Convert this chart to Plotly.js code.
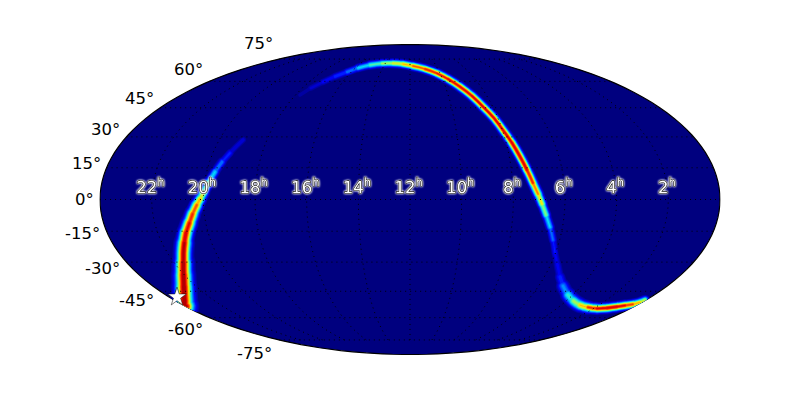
<!DOCTYPE html><html><head><meta charset="utf-8">
<script src="https://cdn.plot.ly/plotly-3.0.1.min.js"></script>
<style>html,body{margin:0;padding:0;background:#fff}</style></head><body>
<div id="chart" style="width:800px;height:400px"></div>
<script>
// Sky-map ridge: right ascension (deg), declination (deg), peak colour level, spread
var bandRA   =[359.9,359.1,347.7,339.0,330.6,324.2,316.5,313.2,309.6,306.8,303.9,301.9,300.1,297.5,295.1,292.5,289.6,285.0,null,266.5,262.8,257.5,251.6,244.3,237.0,226.7,213.9,200.7,188.4,176.6,163.9,153.0,144.9,137.7,131.6,127.1,122.7,119.6,116.4,113.5,110.8,108.2,105.6,103.3,100.6,97.4,94.0,90.3,85.5,79.4,72.9,63.5,54.4,45.3,36.2,27.6,19.8,13.6,8.9,4.3,1.3,0.3];
var bandDec  =[-53.4,-52.6,-47.6,-42.7,-36.5,-30.4,-20.6,-15.8,-11.1,-6.8,-2.6,0.2,3.1,8.2,13.0,17.8,22.1,28.5,null,52.0,56.0,59.6,63.0,65.9,68.6,70.6,71.7,71.8,71.3,69.9,67.9,65.0,61.4,56.8,51.4,45.6,39.6,33.4,27.0,20.3,13.9,7.8,2.6,-2.1,-7.3,-13.0,-19.2,-25.5,-31.4,-37.5,-42.2,-47.0,-50.3,-52.6,-53.9,-54.5,-54.3,-53.5,-52.8,-52.2,-51.2,-50.0];
var bandPeak =[1,1,1,1,1,1,.95,.95,.9,.85,.8,.7,.58,.42,.3,.2,.12,.06,null,.03,.06,.1,.14,.2,.3,.42,.5,.62,.68,.78,.85,.9,.92,.93,.94,.95,.95,.95,.95,.95,.95,.85,.72,.6,.42,.3,.17,.12,.1,.13,.2,.36,.5,.62,.8,.92,.95,.95,.9,.8,.7,.58];
var bandSpread=[5.2,5.2,5.2,5,4.8,4.4,3.9,3.8,3.6,3.4,3.1,2.9,2.7,2.5,2.3,2.2,2,1.9,null,1.9,1.9,1.9,1.9,2,2,2.1,2.1,2.1,2.1,2.1,2.1,2.2,2.2,2.2,2.3,2.3,2.3,2.3,2.4,2.4,2.4,2.4,2.5,2.4,2.3,2.2,2,2,2.2,2.6,3.2,3.6,3.6,3.2,2.8,2.5,2.4,2.4,2.4,2.3,2.3,2.3];
var starRA=[354.0], starDec=[-48.1];
var hourTicks=[22,20,18,16,14,12,10,8,6,4,2];
var decTicks=[75,60,45,30,15,0,-15,-30,-45,-60,-75];
var gridDec=[-75,-60,-45,-30,-15,0,15,30,45,60,75];
var gridHours=[2,4,6,8,10,12,14,16,18,20,22];

// label placement
var decRight=[274,204,155,121,102,95,101,121,155,204,273];
var decMid=[44,69,98,130,164,199,233,268,300,329,353];
var hourLabelDec=1, hourLabelLonShift=-0.8;

var W=800,H=400;
function lonOf(ra){return 180-ra;}
var jetStops=[[0,[0,0,127]],[.11,[0,0,255]],[.34,[0,220,255]],[.5,[124,255,122]],[.65,[255,232,0]],[.75,[255,130,0]],[.89,[238,0,0]],[1,[127,0,0]]];
function jet(v){for(var i=1;i<jetStops.length;i++){if(v<=jetStops[i][0]){var a=jetStops[i-1],b=jetStops[i],t=(v-a[0])/(b[0]-a[0]);
 return 'rgb('+[0,1,2].map(function(k){return Math.round(a[1][k]+(b[1][k]-a[1][k])*t);}).join(',')+')';}}return 'rgb(127,0,0)';}
var levels=[.03,.05,.07,.1,.14,.18,.22,.26,.3,.35,.4,.45,.5,.55,.6,.65,.7,.75,.8,.85,.9,.95];
var traces=[];
levels.forEach(function(l){
  var groups={};
  for(var i=0;i<bandRA.length-1;i++){
    if(bandRA[i]===null||bandRA[i+1]===null)continue;
    var pk=(bandPeak[i]+bandPeak[i+1])/2, sp=(bandSpread[i]+bandSpread[i+1])/2;
    if(pk<=l)continue;
    var w=2*sp*Math.sqrt(2*Math.log(pk/l));
    var key=(Math.round(w*2)/2).toFixed(1);
    var g=groups[key]||(groups[key]={lon:[],lat:[]});
    g.lon.push(lonOf(bandRA[i]),lonOf(bandRA[i+1]),null);g.lat.push(bandDec[i],bandDec[i+1],null);
  }
  Object.keys(groups).forEach(function(k){
    traces.push({type:'scattergeo',mode:'lines',lon:groups[k].lon,lat:groups[k].lat,hoverinfo:'skip',showlegend:false,
      line:{color:jet(l),width:Math.max(+k,.5)}});
  });
});
var bandTraceCount=traces.length;
// dotted graticule, on top of the band, capped at the last parallel
var gLon=[],gLat=[];
gridHours.forEach(function(h){gridDec.forEach(function(d){gLon.push(lonOf(h*15));gLat.push(d);});gLon.push(null);gLat.push(null);});
gridDec.forEach(function(d){for(var a=-180;a<=180;a+=5){gLon.push(a);gLat.push(d);}gLon.push(null);gLat.push(null);});
traces.push({type:'scattergeo',mode:'lines',lon:gLon,lat:gLat,hoverinfo:'skip',showlegend:false,line:{color:'#000',width:1,dash:'1px,4px'}});
// star
traces.push({type:'scattergeo',mode:'markers',lon:starRA.map(lonOf),lat:starDec,hoverinfo:'skip',showlegend:false,
  marker:{symbol:'star',size:14,color:'#fff',line:{color:'#000',width:.5}}});
// hour labels
traces.push({type:'scattergeo',mode:'text',lon:hourTicks.map(function(h){return lonOf(h*15)+hourLabelLonShift;}),lat:hourTicks.map(function(){return hourLabelDec;}),
  text:hourTicks.map(function(h){return h+'<sup>h</sup>';}),textposition:'top center',hoverinfo:'skip',showlegend:false,
  textfont:{family:'DejaVu Sans',size:16.5,color:'#fff'}});

var ann=decTicks.map(function(d,i){return {xref:'paper',yref:'paper',x:decRight[i]/W,y:1-decMid[i]/H,xanchor:'right',yanchor:'middle',
  text:d+'°',showarrow:false,font:{family:'DejaVu Sans',size:16.5,color:'#000'},borderpad:0};});
var L=100,R=720,T=44.5,B=354.5;
Plotly.newPlot('chart',traces,{
  width:W,height:H,margin:{l:0,r:0,t:0,b:0},paper_bgcolor:'#fff',showlegend:false,
  shapes:[{type:'circle',xref:'paper',yref:'paper',x0:L/W,x1:R/W,y0:1-B/H,y1:1-T/H,fillcolor:'#00007f',line:{width:0},layer:'below'}],
  annotations:ann,
  geo:{domain:{x:[L/W,R/W],y:[1-B/H,1-T/H]},projection:{type:'mollweide'},bgcolor:'rgba(0,0,0,0)',
    showland:false,showocean:false,showlakes:false,showrivers:false,showcountries:false,showsubunits:false,showcoastlines:false,
    showframe:true,framecolor:'#000',framewidth:1.2,
    lonaxis:{showgrid:false,range:[-180,180]},lataxis:{showgrid:false,range:[-90,90]}}
},{staticPlot:true,displayModeBar:false}).then(function(){
  var tr=document.querySelectorAll('.scatterlayer .trace');
  var cx=(L+R)/2,cy=(T+B)/2,rx=(R-L)/2,ry=(B-T)/2;
  for(var i=0;i<tr.length;i++){
    if(i<bandTraceCount){
      tr[i].style.clipPath='ellipse('+rx+'px '+ry+'px at '+cx+'px '+cy+'px) view-box';
      tr[i].querySelectorAll('path').forEach(function(p){p.style.strokeLinecap='round';p.style.strokeLinejoin='round';});
    }
  }
  document.querySelectorAll('.scatterlayer .trace text').forEach(function(t){
    t.style.stroke='#000';t.style.strokeWidth='1.2px';t.style.paintOrder='stroke';t.style.strokeLinejoin='round';
    t.style.filter='drop-shadow(0 0 1px #fff) drop-shadow(0 0 0.6px #ddd)';
    t.style.textRendering='geometricPrecision';
  });
});
</script></body></html>
